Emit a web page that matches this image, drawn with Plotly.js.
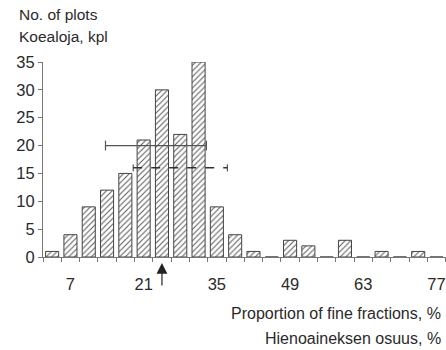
<!DOCTYPE html>
<html>
<head>
<meta charset="utf-8">
<script src="https://cdn.plot.ly/plotly-3.0.1.min.js"></script>
<style>html,body{margin:0;padding:0;background:#fff;}#chart{width:446px;height:350px;}</style>
</head>
<body>
<div id="chart"></div>
<script>
// Bin centres (proportion of fine fractions, %)
const binCenters = [3.5, 7, 10.5, 14, 17.5, 21, 24.5, 28, 31.5, 35, 38.5, 42, 45.5, 49, 52.5, 56, 59.5, 63, 66.5, 70, 73.5, 77];
// Number of plots per bin
const plotCounts = [1, 4, 9, 12, 15, 21, 30, 22, 35, 9, 4, 1, 0, 3, 2, 0, 3, 0, 1, 0, 1, 0];
// Range lines
const solidRangeX = [13.7, 33.0];
const solidRangeY = [20, 20];
const dashedRangeX = [19.0, 37.0];
const dashedRangeY = [16, 16];
const arrowX = 24.5;
// Tick labels
const xTickVals = [7, 21, 35, 49, 63, 77];
const yTickVals = [0, 5, 10, 15, 20, 25, 30, 35];

const font = {family: 'Liberation Sans, Arial, sans-serif', size: 15.5, color: '#2a2a2a'};

const traces = [
  {
    type: 'bar', x: binCenters, y: plotCounts, width: 2.5,
    marker: {color: '#ffffff', line: {color: '#444', width: 1},
      pattern: {shape: '/', fgcolor: '#5a5a5a', bgcolor: '#ffffff', size: 4, solidity: 0.25}},
    hoverinfo: 'x+y'
  },
  {
    type: 'scatter', mode: 'lines+markers', x: solidRangeX, y: solidRangeY,
    line: {color: '#555', width: 1.2},
    marker: {symbol: 'line-ns-open', size: 7, line: {color: '#555', width: 1.2}}
  },
  {
    type: 'scatter', mode: 'lines+markers', x: dashedRangeX, y: dashedRangeY,
    line: {color: '#333', width: 1.5, dash: 'dash'},
    marker: {symbol: 'line-ns-open', size: 5, line: {color: '#333', width: 1}}
  }
];

const layout = {
  width: 446, height: 350,
  margin: {l: 43, r: 0, t: 62, b: 93},
  paper_bgcolor: '#fff', plot_bgcolor: '#fff',
  showlegend: false,
  font: font,
  xaxis: {
    range: [1.75, 78.82], tickvals: xTickVals, ticktext: xTickVals.map(String),
    ticks: '', showgrid: false, zeroline: false, showline: true, linecolor: '#777', linewidth: 1,
    ticklabelstandoff: 12, tickfont: {size: 16.5},
    minor: {ticks: 'outside', ticklen: 4, tickcolor: '#777', tick0: 1.75, dtick: 3.5, showgrid: false}
  },
  yaxis: {
    range: [0, 35], tickvals: yTickVals, ticks: 'outside', ticklen: 4, tickcolor: '#777',
    showgrid: false, zeroline: false, showline: true, linecolor: '#777', linewidth: 1,
    tickfont: {size: 16.5}
  },
  annotations: [
    {text: 'No. of plots', xref: 'paper', yref: 'paper', x: -0.0645, y: 1.246, xanchor: 'left', yanchor: 'middle', showarrow: false, font: font},
    {text: 'Koealoja, kpl', xref: 'paper', yref: 'paper', x: -0.0645, y: 1.133, xanchor: 'left', yanchor: 'middle', showarrow: false, font: font},
    {text: 'Proportion of fine fractions, %', xref: 'paper', yref: 'paper', x: 0.993, y: -0.289, xanchor: 'right', yanchor: 'middle', showarrow: false, font: {size: 16}},
    {text: 'Hienoaineksen osuus, %', xref: 'paper', yref: 'paper', x: 0.993, y: -0.417, xanchor: 'right', yanchor: 'middle', showarrow: false, font: {size: 16}},
    {text: '', x: arrowX, y: 0, xref: 'x', yref: 'y', yshift: -6, showarrow: true, ax: 0, ay: 24,
      arrowhead: 2, arrowsize: 1.8, arrowwidth: 1.2, arrowcolor: '#222'}
  ]
};

Plotly.newPlot('chart', traces, layout, {displayModeBar: false, staticPlot: true});
</script>
</body>
</html>
